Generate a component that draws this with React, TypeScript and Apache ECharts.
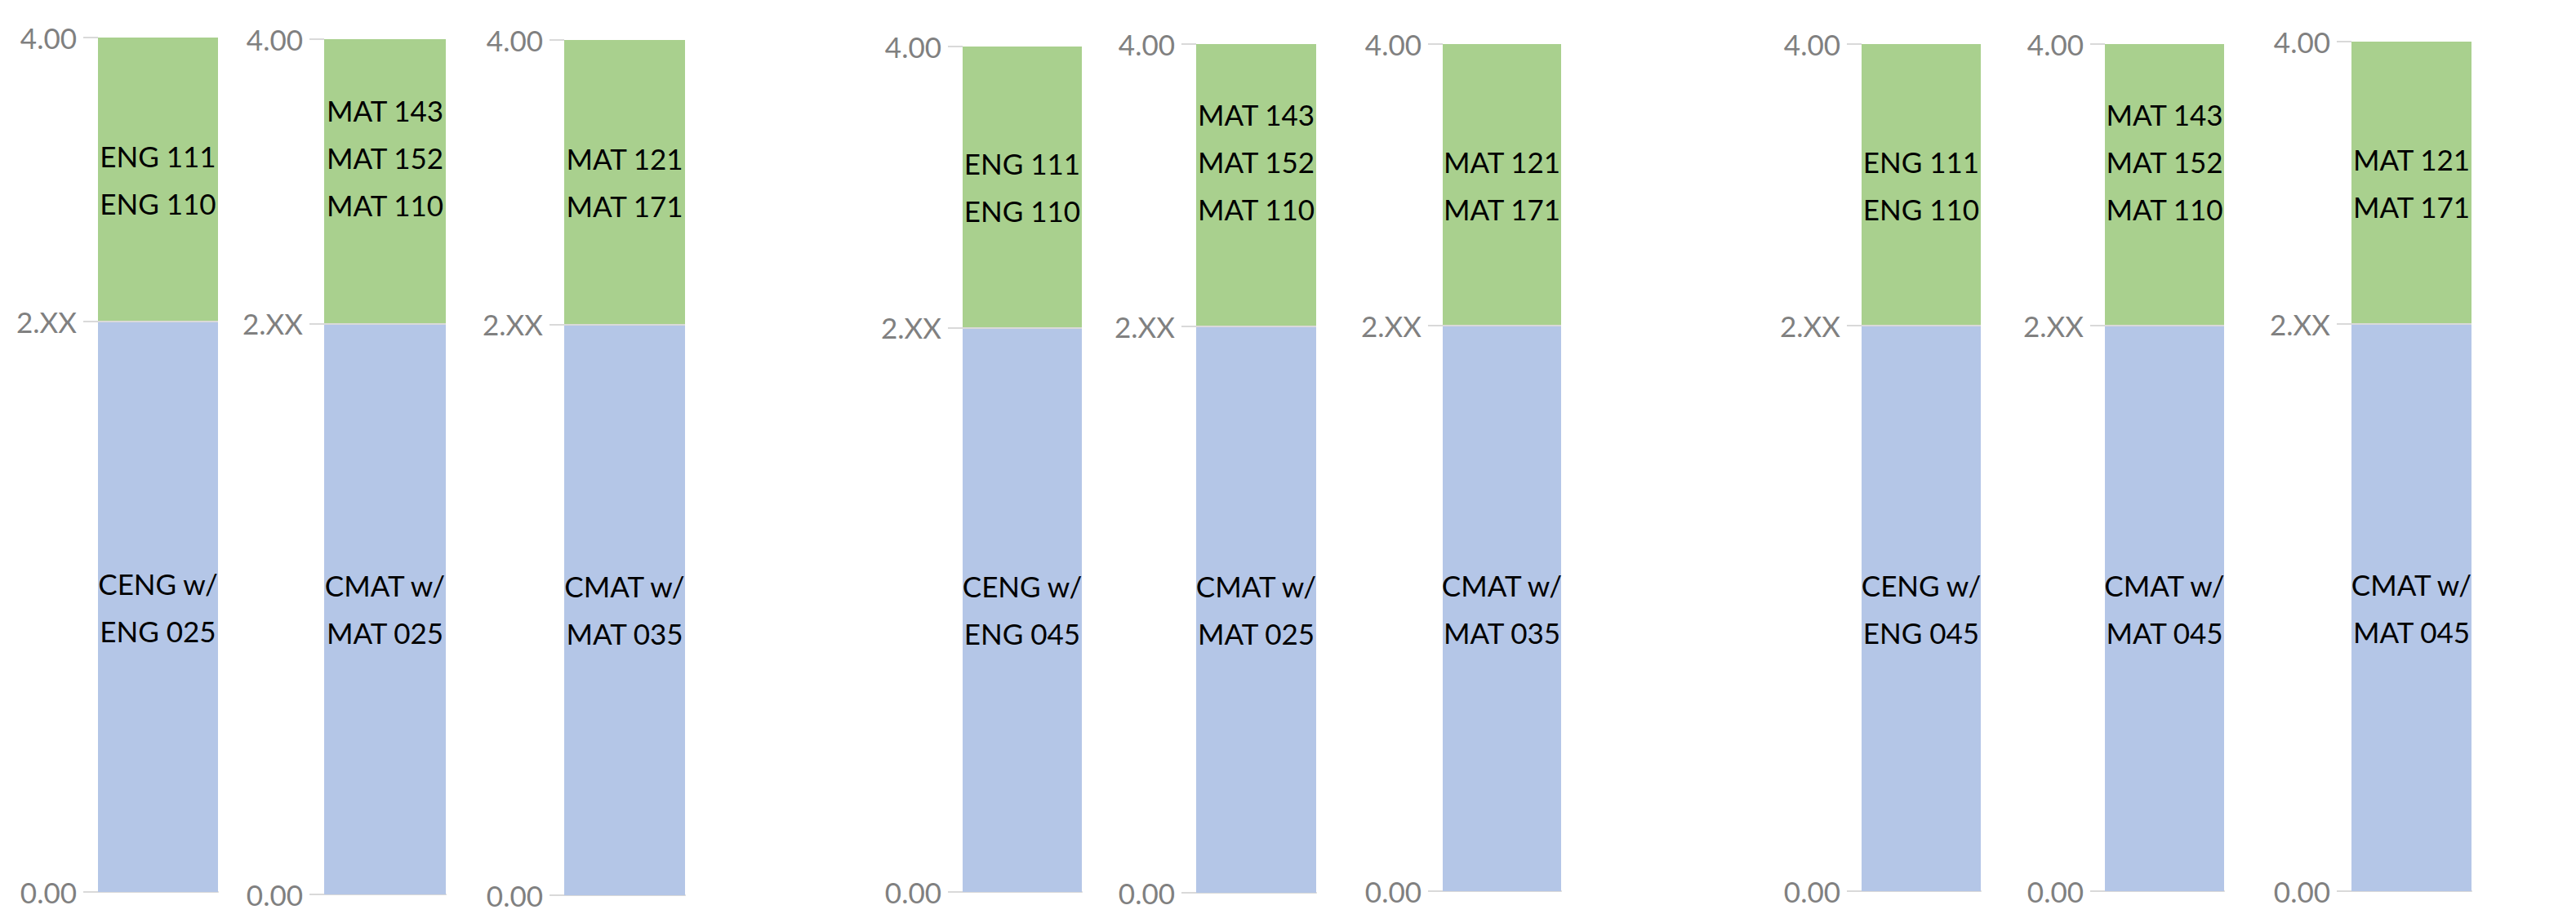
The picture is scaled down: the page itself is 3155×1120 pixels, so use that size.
import React, { useEffect, useRef } from "react";
import * as echarts from "echarts";

// ---- data ----
const upperLabels = [
  "ENG 111\nENG 110",
  "MAT 143\nMAT 152\nMAT 110\n",
  "MAT 121\nMAT 171",
  "ENG 111\nENG 110",
  "MAT 143\nMAT 152\nMAT 110\n",
  "MAT 121\nMAT 171",
  "ENG 111\nENG 110",
  "MAT 143\nMAT 152\nMAT 110\n",
  "MAT 121\nMAT 171",
];
const lowerLabels = [
  "CENG w/\nENG 025",
  "CMAT w/\nMAT 025",
  "CMAT w/\nMAT 035",
  "CENG w/\nENG 045",
  "CMAT w/\nMAT 025",
  "CMAT w/\nMAT 035",
  "CENG w/\nENG 045",
  "CMAT w/\nMAT 045",
  "CMAT w/\nMAT 045",
];
const lowerValues = [2.67, 2.67, 2.67, 2.67, 2.67, 2.67, 2.67, 2.67, 2.67];
const upperValues = [1.33, 1.33, 1.33, 1.33, 1.33, 1.33, 1.33, 1.33, 1.33];
const tickValues = [0, 2.67, 4];
const tickLabels = ["0.00", "2.XX", "4.00"];

// ---- layout (pixels) ----
const barLeft = [120, 397, 691, 1179, 1465, 1767, 2280, 2578, 2880];
const barRight = [267, 546, 839, 1325, 1612, 1912, 2426, 2724, 3027];
const plotTop = [46, 48, 49, 57, 54, 54, 54, 54, 51];
const plotBottom = [1093, 1096, 1097, 1093, 1094, 1092, 1092, 1092, 1092];

const W = 3155;
const H = 1120;
const FONT = "Lato";

export default function App() {
  const ref = useRef<HTMLDivElement>(null);

  useEffect(() => {
    document.body.style.margin = "0";
    if (!ref.current) return;
    const chart = echarts.init(ref.current, undefined, { renderer: "svg" });

    const grid: any[] = [];
    const xAxis: any[] = [];
    const yAxis: any[] = [];
    const series: any[] = [];

    const labelStyle = {
      show: true,
      position: "inside",
      color: "#000000",
      fontFamily: FONT,
      fontSize: 35,
      lineHeight: 58,
      align: "center",
    };

    for (let i = 0; i < lowerValues.length; i++) {
      grid.push({
        left: barLeft[i],
        width: barRight[i] - barLeft[i],
        top: plotTop[i],
        height: plotBottom[i] - plotTop[i],
        containLabel: false,
      });
      xAxis.push({
        type: "category",
        gridIndex: i,
        data: [""],
        axisLine: { show: true, lineStyle: { color: "#d9d9d9", width: 2 } },
        axisTick: { show: false },
        axisLabel: { show: false },
        splitLine: { show: false },
      });
      yAxis.push({
        type: "value",
        gridIndex: i,
        min: 0,
        max: 4,
        axisLine: { show: false },
        splitLine: { show: false },
        axisTick: {
          show: true,
          length: 18,
          customValues: tickValues,
          lineStyle: { color: "#d9d9d9", width: 2 },
        },
        axisLabel: {
          show: true,
          customValues: tickValues,
          margin: 26,
          color: "#808080",
          fontFamily: FONT,
          fontSize: 35,
          formatter: (v: number) => {
            const k = tickValues.findIndex((t) => Math.abs(t - v) < 1e-6);
            return k >= 0 ? tickLabels[k] : "";
          },
        },
      });
      series.push({
        type: "bar",
        xAxisIndex: i,
        yAxisIndex: i,
        stack: "s" + i,
        barWidth: "100%",
        data: [lowerValues[i]],
        itemStyle: { color: "#b4c6e7" },
        label: { ...labelStyle, formatter: lowerLabels[i] },
        markLine: {
          silent: true,
          symbol: "none",
          z: 10,
          label: { show: false },
          lineStyle: { color: "#d9d9d9", width: 2, type: "solid" },
          data: [{ yAxis: lowerValues[i] }],
        },
      });
      series.push({
        type: "bar",
        xAxisIndex: i,
        yAxisIndex: i,
        stack: "s" + i,
        barWidth: "100%",
        data: [upperValues[i]],
        itemStyle: { color: "#a9d08e" },
        label: { ...labelStyle, formatter: upperLabels[i] },
      });
    }

    chart.setOption({
      animation: false,
      backgroundColor: "#ffffff",
      textStyle: { fontFamily: FONT },
      grid,
      xAxis,
      yAxis,
      series,
    });

    return () => chart.dispose();
  }, []);

  return (
    <div
      ref={ref}
      style={{ position: "absolute", left: 0, top: 0, width: W, height: H }}
    />
  );
}
